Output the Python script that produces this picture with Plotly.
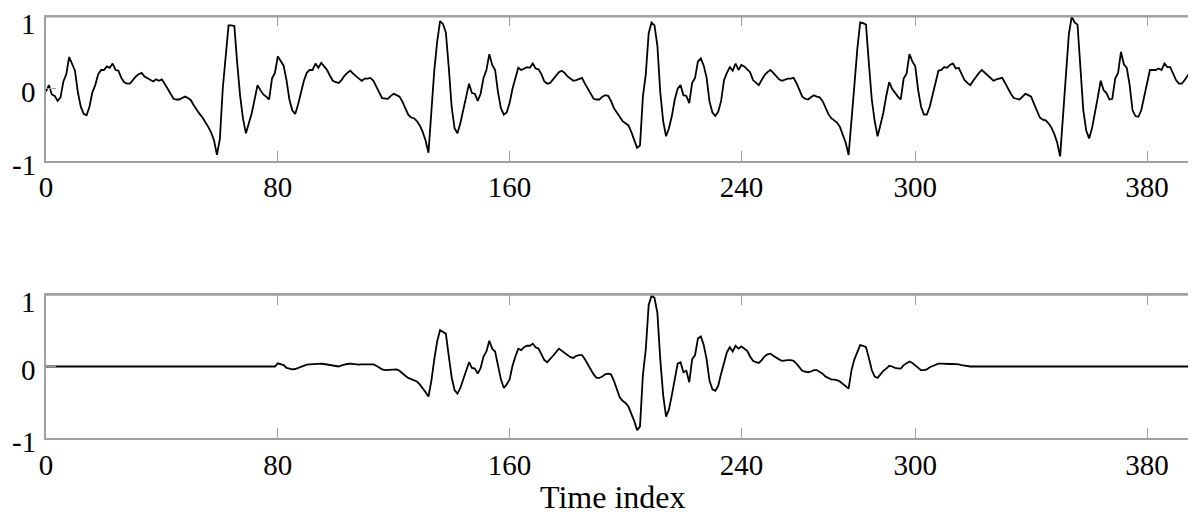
import plotly.graph_objects as go

# Top panel: full signal (value per time index 0..397)
top_signal = [
    -0.04, 0.05, -0.08, -0.10, -0.17, -0.12, 0.10, 0.20, 0.44, 0.33,
    0.25, -0.05, -0.25, -0.35, -0.37, -0.25, -0.05, 0.05, 0.20, 0.26,
    0.26, 0.31, 0.29, 0.35, 0.26, 0.25, 0.15, 0.09, 0.07, 0.07,
    0.12, 0.17, 0.20, 0.22, 0.17, 0.15, 0.12, 0.10, 0.13, 0.11,
    0.13, 0.07, 0.00, -0.07, -0.14, -0.15, -0.15, -0.13, -0.11, -0.13,
    -0.16, -0.23, -0.30, -0.35, -0.40, -0.46, -0.53, -0.61, -0.72, -0.92,
    -0.70, 0.00, 0.50, 0.88, 0.88, 0.87, 0.35, -0.10, -0.42, -0.62,
    -0.48, -0.34, -0.15, 0.05, -0.02, -0.08, -0.11, -0.15, 0.14, 0.22,
    0.45, 0.38, 0.32, 0.12, -0.15, -0.30, -0.35, -0.22, -0.06, 0.11,
    0.22, 0.26, 0.26, 0.35, 0.29, 0.36, 0.31, 0.26, 0.18, 0.11,
    0.09, 0.08, 0.12, 0.18, 0.22, 0.25, 0.21, 0.17, 0.14, 0.11,
    0.14, 0.14, 0.15, 0.11, 0.04, -0.05, -0.13, -0.14, -0.14, -0.10,
    -0.07, -0.09, -0.11, -0.18, -0.27, -0.36, -0.40, -0.41, -0.45, -0.51,
    -0.60, -0.72, -0.89, -0.30, 0.25, 0.65, 0.94, 0.90, 0.78, 0.30,
    -0.25, -0.55, -0.62, -0.48, -0.30, -0.10, 0.07, -0.06, -0.07, -0.17,
    -0.07, 0.15, 0.26, 0.48, 0.33, 0.26, -0.05, -0.27, -0.36, -0.33,
    -0.20, 0.00, 0.15, 0.29, 0.26, 0.28, 0.30, 0.29, 0.35, 0.28,
    0.27, 0.20, 0.10, 0.07, 0.08, 0.13, 0.18, 0.23, 0.25, 0.22,
    0.17, 0.14, 0.11, 0.12, 0.13, 0.15, 0.07, 0.00, -0.08, -0.14,
    -0.15, -0.15, -0.11, -0.09, -0.10, -0.17, -0.27, -0.33, -0.40, -0.45,
    -0.48, -0.51, -0.60, -0.70, -0.82, -0.79, -0.11, 0.20, 0.77, 0.92,
    0.88, 0.60, -0.05, -0.45, -0.66, -0.55, -0.38, -0.15, 0.00, 0.05,
    -0.09, -0.10, -0.20, 0.08, 0.15, 0.38, 0.42, 0.32, 0.15, -0.18,
    -0.33, -0.38, -0.32, -0.17, 0.12, 0.22, 0.30, 0.25, 0.35, 0.26,
    0.33, 0.31, 0.27, 0.23, 0.12, 0.08, 0.05, 0.12, 0.19, 0.23,
    0.26, 0.22, 0.17, 0.13, 0.11, 0.13, 0.14, 0.14, 0.15, 0.08,
    -0.02, -0.11, -0.14, -0.15, -0.12, -0.09, -0.11, -0.12, -0.17, -0.26,
    -0.35, -0.41, -0.44, -0.47, -0.53, -0.63, -0.75, -0.92, -0.48, 0.05,
    0.55, 0.92, 0.91, 0.89, 0.35, -0.15, -0.45, -0.66, -0.50, -0.33,
    -0.10, 0.09, 0.00, -0.06, -0.11, -0.15, 0.14, 0.21, 0.48, 0.38,
    0.31, -0.02, -0.25, -0.36, -0.36, -0.25, -0.08, 0.10, 0.25, 0.26,
    0.30, 0.29, 0.33, 0.35, 0.28, 0.29, 0.20, 0.12, 0.08, 0.05,
    0.11, 0.17, 0.22, 0.26, 0.22, 0.18, 0.14, 0.11, 0.13, 0.14,
    0.15, 0.08, 0.00, -0.07, -0.13, -0.14, -0.15, -0.11, -0.07, -0.09,
    -0.11, -0.21, -0.30, -0.40, -0.43, -0.44, -0.48, -0.54, -0.63, -0.75,
    -0.94, -0.40, 0.25, 0.75, 1.00, 0.92, 0.89, 0.30, -0.30, -0.58,
    -0.69, -0.55, -0.35, -0.12, 0.11, -0.02, -0.06, -0.15, -0.14, 0.14,
    0.22, 0.51, 0.34, 0.29, 0.05, -0.30, -0.38, -0.39, -0.30, -0.10,
    0.05, 0.26, 0.26, 0.26, 0.28, 0.26, 0.35, 0.30, 0.30, 0.22,
    0.12, 0.07, 0.07, 0.12, 0.18, 0.24, 0.24, 0.23,
]

# Bottom panel: windowed signal (value per time index 0..397)
bottom_signal = [
    0, 0, 0, 0, 0, 0, 0, 0, 0, 0,
    0, 0, 0, 0, 0, 0, 0, 0, 0, 0,
    0, 0, 0, 0, 0, 0, 0, 0, 0, 0,
    0, 0, 0, 0, 0, 0, 0, 0, 0, 0,
    0, 0, 0, 0, 0, 0, 0, 0, 0, 0,
    0, 0, 0, 0, 0, 0, 0, 0, 0, 0,
    0, 0, 0, 0, 0, 0, 0, 0, 0, 0,
    0, 0, 0, 0, 0, 0, 0, 0, 0, 0,
    0.045, 0.035, 0.02, -0.02, -0.035, -0.04, -0.035, -0.02, 0.00, 0.015,
    0.025, 0.03, 0.035, 0.035, 0.04, 0.04, 0.035, 0.03, 0.025, 0.015,
    0.005, 0.00, 0.015, 0.03, 0.035, 0.04, 0.035, 0.025, 0.025, 0.03,
    0.03, 0.035, 0.035, 0.03, 0.01, -0.02, -0.04, -0.05, -0.045, -0.04,
    -0.035, -0.04, -0.06, -0.10, -0.13, -0.16, -0.18, -0.19, -0.21, -0.25,
    -0.30, -0.36, -0.42, -0.20, 0.10, 0.35, 0.51, 0.49, 0.46, 0.15,
    -0.15, -0.33, -0.38, -0.30, -0.18, -0.05, 0.06, -0.02, -0.03, -0.10,
    -0.02, 0.14, 0.21, 0.36, 0.25, 0.21, 0.00, -0.18, -0.30, -0.25,
    -0.18, 0.01, 0.14, 0.25, 0.23, 0.27, 0.29, 0.29, 0.32, 0.27,
    0.25, 0.16, 0.09, 0.06, 0.10, 0.15, 0.20, 0.25, 0.22, 0.19,
    0.17, 0.13, 0.12, 0.15, 0.16, 0.16, 0.10, 0.03, -0.05, -0.11,
    -0.16, -0.16, -0.14, -0.11, -0.10, -0.11, -0.20, -0.33, -0.43, -0.48,
    -0.51, -0.56, -0.65, -0.76, -0.89, -0.84, -0.12, 0.24, 0.86, 0.99,
    0.96, 0.75, 0.10, -0.40, -0.70, -0.60, -0.40, -0.15, 0.04, 0.06,
    -0.08, -0.06, -0.22, 0.10, 0.16, 0.39, 0.42, 0.30, 0.10, -0.20,
    -0.32, -0.34, -0.27, -0.10, 0.06, 0.20, 0.27, 0.21, 0.29, 0.25,
    0.28, 0.25, 0.22, 0.14, 0.08, 0.06, 0.05, 0.09, 0.14, 0.17,
    0.18, 0.15, 0.12, 0.10, 0.08, 0.09, 0.09, 0.09, 0.08, 0.04,
    -0.01, -0.06, -0.07, -0.08, -0.07, -0.05, -0.05, -0.07, -0.10, -0.14,
    -0.16, -0.18, -0.185, -0.19, -0.21, -0.24, -0.27, -0.31, -0.05, 0.10,
    0.20, 0.30, 0.29, 0.27, 0.12, -0.05, -0.14, -0.16, -0.11, -0.06,
    -0.03, 0.01, 0.00, -0.02, -0.025, -0.03, 0.02, 0.04, 0.07, 0.05,
    0.02, -0.02, -0.05, -0.05, -0.04, -0.01, 0.01, 0.03, 0.04, 0.04,
    0.035, 0.035, 0.035, 0.035, 0.035, 0.03, 0.02, 0.01, 0.005, 0.0,
    0, 0, 0, 0, 0, 0, 0, 0, 0, 0,
    0, 0, 0, 0, 0, 0, 0, 0, 0, 0,
    0, 0, 0, 0, 0, 0, 0, 0, 0, 0,
    0, 0, 0, 0, 0, 0, 0, 0, 0, 0,
    0, 0, 0, 0, 0, 0, 0, 0, 0, 0,
    0, 0, 0, 0, 0, 0, 0, 0, 0, 0,
    0, 0, 0, 0, 0, 0, 0, 0, 0, 0,
    0, 0, 0, 0, 0, 0, 0, 0,
]

time_index = list(range(len(top_signal)))
time_index_bottom = list(range(len(bottom_signal)))

x_tickvals = [0, 80, 160, 240, 300, 380]
x_ticktext = ["0", "80", "160", "240", "300", "380"]
y_tickvals = [-1, 0, 1]
y_ticktext = ["-1", "0", "1"]
x_title = "Time index"

FONT = "Liberation Serif, Times New Roman, serif"
AXIS_COLOR = "#a0a0a0"
W, H = 1196, 516
OFF = 8          # page body margin offset
ML = 46 - OFF    # left edge of plot area in figure coords
PX_PER_UNIT = 2.8975

fig = go.Figure()
fig.add_trace(go.Scatter(x=time_index, y=top_signal, mode="lines",
                         line=dict(color="black", width=1.8),
                         xaxis="x", yaxis="y", showlegend=False, hoverinfo="skip"))
fig.add_trace(go.Scatter(x=time_index_bottom, y=bottom_signal, mode="lines",
                         line=dict(color="black", width=1.8),
                         xaxis="x2", yaxis="y2", showlegend=False, hoverinfo="skip"))

x_max = (W - ML) / PX_PER_UNIT

def xax(anchor):
    return dict(
        anchor=anchor, domain=[0, 1], range=[0, x_max], automargin=False,
        tickvals=x_tickvals, ticktext=x_ticktext,
        ticks="inside", ticklen=10, tickwidth=1.3, tickcolor=AXIS_COLOR,
        showline=True, linecolor=AXIS_COLOR, linewidth=1.5, mirror="ticks",
        showgrid=False, zeroline=False,
        tickfont=dict(family=FONT, size=29, color="black"),
        ticklabelstandoff=0,
    )

def yax(anchor, domain):
    return dict(
        anchor=anchor, domain=domain, range=[-1, 1], automargin=False,
        tickvals=y_tickvals, showticklabels=False,
        ticks="inside", ticklen=10, tickwidth=1.3, tickcolor=AXIS_COLOR,
        showline=True, linecolor=AXIS_COLOR, linewidth=1.5, mirror="ticks",
        showgrid=False, zeroline=False,
    )

top_dom = [1 - (160.7 - OFF) / H, 1 - (16.7 - OFF) / H]
bot_dom = [1 - (438.0 - OFF) / H, 1 - (295.0 - OFF) / H]

# y tick labels drawn as text next to the y axis (slightly below their ticks, as in the reference)
label_yshift = {1: -7, 0: -3, -1: -4}
annotations = []
for yref in ("y", "y2"):
    for val, txt in zip(y_tickvals, y_ticktext):
        annotations.append(dict(
            text=txt, xref="paper", yref=yref, x=0, y=val,
            xanchor="right", yanchor="middle", xshift=-8, yshift=label_yshift[val],
            showarrow=False, font=dict(family=FONT, size=29, color="black"),
        ))
annotations.append(dict(
    text=x_title, xref="paper", yref="paper",
    x=(613 - OFF - ML) / (W - ML), y=1 - (497 - OFF) / H,
    xanchor="center", yanchor="middle", showarrow=False,
    font=dict(family=FONT, size=32, color="black"),
))

fig.update_layout(
    width=W, height=H,
    margin=dict(l=ML, r=0, t=0, b=0, autoexpand=False),
    paper_bgcolor="white", plot_bgcolor="white",
    xaxis=xax("y"),
    yaxis=yax("x", top_dom),
    xaxis2=xax("y2"),
    yaxis2=yax("x2", bot_dom),
    shapes=[
        dict(type="line", xref="x domain", yref="y domain", x0=0, x1=1, y0=1, y1=1,
             line=dict(color=AXIS_COLOR, width=1.5)),
        dict(type="line", xref="x2 domain", yref="y2 domain", x0=0, x1=1, y0=1, y1=1,
             line=dict(color=AXIS_COLOR, width=1.5)),
    ],
    annotations=annotations,
)

fig.write_html("out.html")
